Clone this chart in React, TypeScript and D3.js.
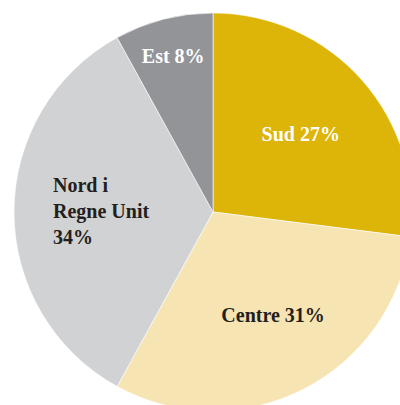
import React from "react";
import * as d3 from "d3";

const categories = ["Sud", "Centre", "Nord i Regne Unit", "Est"];
const values = [27, 31, 34, 8];
const labelLines = [["Sud 27%"], ["Centre 31%"], ["Nord i", "Regne Unit", "34%"], ["Est 8%"]];
const colors = ["#DDB408", "#F6E4B3", "#D1D2D4", "#939498"];
const textColors = ["#FFFFFF", "#231F20", "#231F20", "#FFFFFF"];
const labelDx = [0, 7, 0, 0];

const W = 400;
const H = 405;
const cx = 213;
const cy = 212;
const R = 199;

export default function App() {
  const data = categories.map((c, i) => ({ c, v: values[i], i }));
  const pie = d3.pie<any>().value((d) => d.v).sort(null);
  const arcs = pie(data);
  const arc = d3.arc<any>().innerRadius(0).outerRadius(R);
  return (
    <svg width={W} height={H} style={{ position: "absolute", left: 0, top: 0 }}>
      <g transform={`translate(${cx},${cy})`}>
        {arcs.map((a, i) => (
          <path key={i} d={arc(a) as string} fill={colors[i]} stroke="#ffffff" strokeWidth={0.6} />
        ))}
        {arcs.map((a, i) => {
          const lr = a.data.v < 10 ? 160 : 117;
          const la = d3.arc<any>().innerRadius(lr).outerRadius(lr);
          const [x0, y] = la.centroid(a);
          const x = x0 + labelDx[i];
          const lines = labelLines[i];
          const multi = lines.length > 1;
          const lh = 26;
          const y0 = y + 6 - ((lines.length - 1) * lh) / 2;
          return (
            <text
              key={i}
              x={multi ? x - 43 : x}
              y={y0}
              textAnchor={multi ? "start" : "middle"}
              fill={textColors[i]}
              fontFamily="'Liberation Serif', serif"
              fontWeight={700}
              fontSize={20}
            >
              {lines.map((l, j) => (
                <tspan key={j} x={multi ? x - 43 : x} dy={j === 0 ? 0 : lh}>
                  {l}
                </tspan>
              ))}
            </text>
          );
        })}
      </g>
    </svg>
  );
}
